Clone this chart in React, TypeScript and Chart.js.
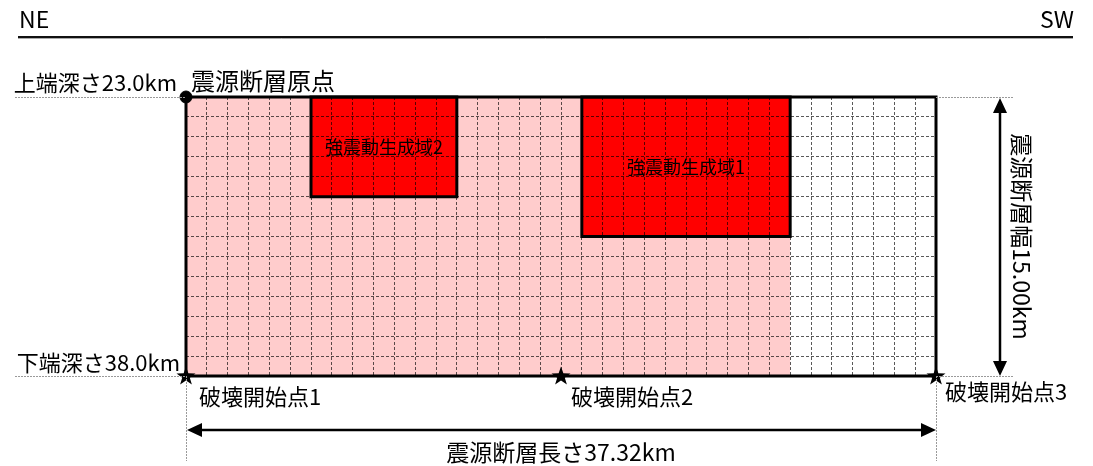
import React, { useEffect, useRef } from 'react';
import { Chart, registerables } from 'chart.js';

Chart.register(...registerables);

// ---- Data (grid units: 36 columns along strike, 14 rows down dip) ----
const GRID_COLUMNS = 36;
const GRID_ROWS = 14;

const faultX = [0, 36, 36, 0, 0];
const faultY = [0, 0, 14, 14, 0];

const backgroundX = [0, 29, 29, 0, 0];
const backgroundY = [0, 0, 14, 14, 0];

const smga1X = [19, 29, 29, 19, 19];
const smga1Y = [0, 0, 7, 7, 0];

const smga2X = [6, 13, 13, 6, 6];
const smga2Y = [0, 0, 5, 5, 0];

const ruptureX = [0, 18, 36];
const ruptureY = [14, 14, 14];

const originX = [0];
const originY = [0];

const directionLabels = ['NE', 'SW'];
const depthLabels = ['上端深さ23.0km', '下端深さ38.0km'];
const originLabel = '震源断層原点';
const ruptureLabels = ['破壊開始点1', '破壊開始点2', '破壊開始点3'];
const smgaLabels = ['強震動生成域1', '強震動生成域2'];
const lengthLabel = '震源断層長さ37.32km';
const widthLabel = '震源断層幅15.00km';

const JP = '"Noto Sans CJK JP", "Noto Sans", sans-serif';

const pts = (xs: number[], ys: number[]) => xs.map((x, i) => ({ x, y: ys[i] }));

function makeStar(): HTMLCanvasElement {
  const c = document.createElement('canvas');
  c.width = 24;
  c.height = 24;
  const g = c.getContext('2d')!;
  const cx = 12, cy = 12.5, ro = 10, ri = 4;
  g.beginPath();
  for (let i = 0; i < 10; i++) {
    const r = i % 2 === 0 ? ro : ri;
    const a = -Math.PI / 2 + (i * Math.PI) / 5;
    const px = cx + r * Math.cos(a);
    const py = cy + r * Math.sin(a);
    if (i === 0) g.moveTo(px, py);
    else g.lineTo(px, py);
  }
  g.closePath();
  g.fillStyle = '#000';
  g.fill();
  return c;
}

function arrowHead(ctx: CanvasRenderingContext2D, tx: number, ty: number, dx: number, dy: number) {
  const len = 15, half = 7;
  const bx = tx + dx * len, by = ty + dy * len;
  ctx.beginPath();
  ctx.moveTo(tx, ty);
  ctx.lineTo(bx - dy * half, by + dx * half);
  ctx.lineTo(bx + dy * half, by - dx * half);
  ctx.closePath();
  ctx.fill();
}

const annotations = {
  id: 'faultAnnotations',
  afterDraw(chart: any) {
    const ctx: CanvasRenderingContext2D = chart.ctx;
    const xs = chart.scales.x;
    const ys = chart.scales.y;
    const L = xs.getPixelForValue(0);
    const R = xs.getPixelForValue(GRID_COLUMNS);
    const T = ys.getPixelForValue(0);
    const B = ys.getPixelForValue(GRID_ROWS);
    ctx.save();

    // Header line with direction labels
    ctx.strokeStyle = '#aaa';
    ctx.lineWidth = 1;
    ctx.beginPath();
    ctx.moveTo(18, 38.5);
    ctx.lineTo(1073, 38.5);
    ctx.stroke();
    ctx.strokeStyle = '#111';
    ctx.lineWidth = 2;
    ctx.beginPath();
    ctx.moveTo(18, 37);
    ctx.lineTo(1073, 37);
    ctx.stroke();
    ctx.fillStyle = '#000';
    ctx.font = `23px ${JP}`;
    ctx.textBaseline = 'alphabetic';
    ctx.textAlign = 'left';
    ctx.fillText(directionLabels[0], 19, 28);
    ctx.textAlign = 'right';
    ctx.fillText(directionLabels[1], 1074, 28);

    // Dotted extension lines
    ctx.strokeStyle = '#9a9a9a';
    ctx.lineWidth = 1;
    ctx.setLineDash([2, 1]);
    ctx.beginPath();
    ctx.moveTo(15, T + 0.5); ctx.lineTo(L, T + 0.5);
    ctx.moveTo(R, T + 0.5); ctx.lineTo(R + 77, T + 0.5);
    ctx.moveTo(15, B + 0.5); ctx.lineTo(L, B + 0.5);
    ctx.moveTo(R, B + 0.5); ctx.lineTo(R + 77, B + 0.5);
    ctx.moveTo(L + 0.5, B); ctx.lineTo(L + 0.5, B + 85);
    ctx.moveTo(R + 0.5, B); ctx.lineTo(R + 0.5, B + 85);
    ctx.stroke();
    ctx.setLineDash([]);

    // Length arrow
    ctx.strokeStyle = '#000';
    ctx.fillStyle = '#000';
    ctx.lineWidth = 2.5;
    const ay = B + 54;
    ctx.beginPath();
    ctx.moveTo(L + 12, ay);
    ctx.lineTo(R - 12, ay);
    ctx.stroke();
    arrowHead(ctx, L + 1, ay, 1, 0);
    arrowHead(ctx, R, ay, -1, 0);

    // Width arrow
    const ax = R + 64;
    ctx.beginPath();
    ctx.moveTo(ax, T + 12);
    ctx.lineTo(ax, B - 12);
    ctx.stroke();
    arrowHead(ctx, ax, T + 1, 0, 1);
    arrowHead(ctx, ax, B, 0, -1);

    // Texts
    ctx.fillStyle = '#000';
    ctx.textBaseline = 'middle';
    ctx.font = `24px ${JP}`;
    ctx.textAlign = 'left';
    ctx.fillText(originLabel, L + 5, T - 16);

    ctx.font = `22px ${JP}`;
    ctx.textAlign = 'right';
    ctx.fillText(depthLabels[0], L - 9, T - 14);
    ctx.fillText(depthLabels[1], L - 6, B - 13);

    ctx.textAlign = 'left';
    const rOff = [[13, 21], [10, 21], [9, 16]];
    ruptureLabels.forEach((t, i) => {
      const px = xs.getPixelForValue(ruptureX[i]);
      const py = ys.getPixelForValue(ruptureY[i]);
      ctx.fillText(t, px + rOff[i][0], py + rOff[i][1]);
    });

    ctx.font = `23px ${JP}`;
    ctx.textAlign = 'center';
    ctx.fillText(lengthLabel, (L + R) / 2, B + 76);

    ctx.save();
    ctx.translate(R + 86, (T + B) / 2);
    ctx.rotate(Math.PI / 2);
    ctx.font = `23px ${JP}`;
    ctx.textAlign = 'center';
    ctx.fillText(widthLabel, 0, 0);
    ctx.restore();

    // SMGA labels
    ctx.font = `18px ${JP}`;
    ctx.textAlign = 'center';
    const boxes = [[smga1X, smga1Y], [smga2X, smga2Y]];
    boxes.forEach(([bx, by], i) => {
      const cx = (xs.getPixelForValue(Math.min(...bx)) + xs.getPixelForValue(Math.max(...bx))) / 2;
      const cy = (ys.getPixelForValue(Math.min(...by)) + ys.getPixelForValue(Math.max(...by))) / 2;
      ctx.fillText(smgaLabels[i], cx, cy);
    });

    ctx.restore();
  },
};

export default function App() {
  const ref = useRef<HTMLCanvasElement | null>(null);

  useEffect(() => {
    if (!ref.current) return;
    const star = makeStar();
    const outline = {
      borderColor: '#000',
      borderWidth: 3,
      pointRadius: 0,
      tension: 0,
      borderJoinStyle: 'miter' as const,
      borderCapStyle: 'square' as const,
      clip: false as const,
    };
    const chart = new Chart(ref.current, {
      type: 'line',
      data: {
        datasets: [
          {
            label: 'origin',
            data: pts(originX, originY),
            showLine: false,
            pointStyle: 'circle',
            pointRadius: 6,
            pointBackgroundColor: '#000',
            pointBorderColor: '#000',
            pointBorderWidth: 1,
            clip: false,
          },
          {
            label: 'rupture',
            data: pts(ruptureX, ruptureY),
            showLine: false,
            pointStyle: star as any,
            pointRadius: 12,
            clip: false,
          },
          { label: 'smga2', data: pts(smga2X, smga2Y), ...outline, fill: 'shape', backgroundColor: '#ff0000' },
          { label: 'smga1', data: pts(smga1X, smga1Y), ...outline, fill: 'shape', backgroundColor: '#ff0000' },
          { label: 'fault', data: pts(faultX, faultY), ...outline, fill: false },
          {
            label: 'background',
            data: pts(backgroundX, backgroundY),
            borderWidth: 0,
            borderColor: 'rgba(0,0,0,0)',
            pointRadius: 0,
            tension: 0,
            fill: 'shape',
            backgroundColor: '#ffcccc',
          },
        ] as any,
      },
      options: {
        responsive: false,
        animation: false,
        events: [],
        layout: { padding: { left: 186, right: 157, top: 97, bottom: 90 } },
        scales: {
          x: {
            type: 'linear',
            min: 0,
            max: GRID_COLUMNS,
            ticks: { display: false, stepSize: 1 },
            grid: { color: 'rgba(0,0,0,0.65)', lineWidth: 1, drawTicks: false },
            border: { display: false, dash: [3, 2] },
          },
          y: {
            type: 'linear',
            min: 0,
            max: GRID_ROWS,
            reverse: true,
            ticks: { display: false, stepSize: 1 },
            grid: { color: 'rgba(0,0,0,0.65)', lineWidth: 1, drawTicks: false },
            border: { display: false, dash: [3, 2] },
          },
        },
        plugins: {
          legend: { display: false },
          tooltip: { enabled: false },
          filler: { drawTime: 'beforeDraw' },
        } as any,
      },
      plugins: [annotations],
    });
    return () => chart.destroy();
  }, []);

  return (
    <div style={{ position: 'absolute', left: 0, top: 0, width: 1093, height: 466, background: '#fff' }}>
      <canvas ref={ref} width={1093} height={466} style={{ display: 'block' }} />
    </div>
  );
}
